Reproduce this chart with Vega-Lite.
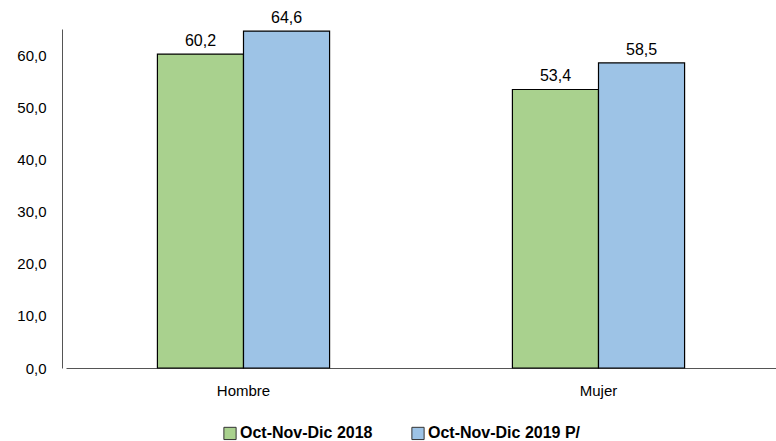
{
  "$schema": "https://vega.github.io/schema/vega-lite/v6.json",
  "width": 714,
  "height": 339,
  "autosize": {"type": "none"},
  "padding": {"left": 62, "top": 29, "right": 0, "bottom": 73},
  "config": {
    "font": "Liberation Sans",
    "locale": {"number": {"decimal": ",", "thousands": ".", "grouping": [3], "currency": ["", ""]}},
    "view": {"stroke": null},
    "axis": {"grid": false, "ticks": false, "domainColor": "#555555", "labelColor": "#000000", "labelFontSize": 15, "labelFont": "Liberation Sans"}
  },
  "data": {
    "values": [
      {"sexo": "Hombre", "periodo": "Oct-Nov-Dic 2018", "valor": 60.2},
      {"sexo": "Hombre", "periodo": "Oct-Nov-Dic 2019 P/", "valor": 64.6},
      {"sexo": "Mujer", "periodo": "Oct-Nov-Dic 2018", "valor": 53.4},
      {"sexo": "Mujer", "periodo": "Oct-Nov-Dic 2019 P/", "valor": 58.5}
    ]
  },
  "encoding": {
    "x": {"field": "sexo", "type": "nominal", "scale": {"range": [4, 714], "paddingInner": 0.515, "paddingOuter": 0.2575}, "axis": {"title": null, "labelAngle": 0, "labelPadding": 15}},
    "xOffset": {"field": "periodo", "type": "nominal", "scale": {"paddingInner": 0, "paddingOuter": 0}},
    "y": {"field": "valor", "type": "quantitative", "scale": {"domain": [0, 65], "nice": false}, "axis": {"title": null, "values": [0, 10, 20, 30, 40, 50, 60], "format": ".1f", "labelPadding": 16}}
  },
  "layer": [
    {
      "mark": {"type": "bar", "stroke": "#000000", "strokeWidth": 1.2},
      "encoding": {
        "color": {"field": "periodo", "type": "nominal", "scale": {"range": ["#A9D18E", "#9DC3E6"]},
          "legend": {"title": null, "orient": "none", "legendX": 160, "legendY": 396, "direction": "horizontal", "symbolType": "square", "symbolSize": 150, "symbolStrokeColor": "#333333", "symbolStrokeWidth": 1, "labelFontSize": 16, "labelFontWeight": "bold", "labelFont": "Liberation Sans", "labelColor": "#000000", "columnPadding": 36, "labelOffset": 2}}
      }
    },
    {
      "mark": {"type": "text", "dy": -13, "fontSize": 16, "font": "Liberation Sans", "color": "#000000"},
      "encoding": {
        "text": {"field": "valor", "type": "quantitative", "format": ".1f"},
        "detail": {"field": "periodo"}
      }
    }
  ]
}
